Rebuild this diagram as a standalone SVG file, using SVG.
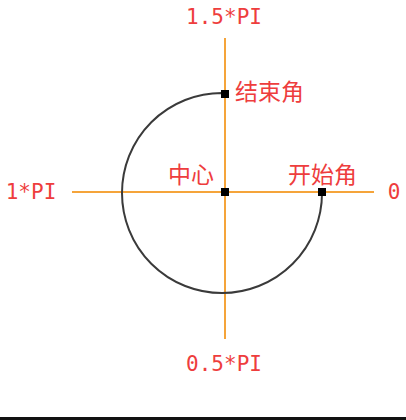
<svg xmlns="http://www.w3.org/2000/svg" width="406" height="420" viewBox="0 0 406 420">
<style>
.axis{stroke:#f5a43a;stroke-width:2;fill:none}
.arc{stroke:#3a3a3a;stroke-width:2;fill:none}
.pt{fill:#000}
.lat{font-family:"DejaVu Sans Mono","Liberation Mono",monospace;font-size:21px;fill:#ee3d3d;text-anchor:middle}
.cjk{font-family:"Noto Sans CJK SC","Noto Sans CJK JP",sans-serif;font-size:23px;fill:#ee3d3d}
</style>
<rect x="0" y="0" width="406" height="420" fill="#fff"/>
<g id="connectors">
<line class="axis" x1="72" y1="192" x2="374" y2="192"/>
<line class="axis" x1="225" y1="38" x2="225" y2="339"/>
<path class="arc" d="M322 193 A100 100 0 1 1 222 93 L225 94"/>
</g>
<g id="center"><rect class="pt" x="221" y="188" width="8" height="8"/><text class="cjk" x="168" y="183">中心</text></g>
<g id="start"><rect class="pt" x="318" y="188" width="8" height="8"/><text class="cjk" x="288" y="183">开始角</text></g>
<g id="end"><rect class="pt" x="221" y="90" width="8" height="8"/><text class="cjk" x="235" y="100">结束角</text></g>
<g id="label-0"><text class="lat" x="394" y="199">0</text></g>
<g id="label-05pi"><text class="lat" x="224" y="371">0.5*PI</text></g>
<g id="label-1pi"><text class="lat" x="31" y="199">1*PI</text></g>
<g id="label-15pi"><text class="lat" x="224" y="24">1.5*PI</text></g>
<rect x="0" y="417" width="406" height="3" fill="#111"/>
</svg>
